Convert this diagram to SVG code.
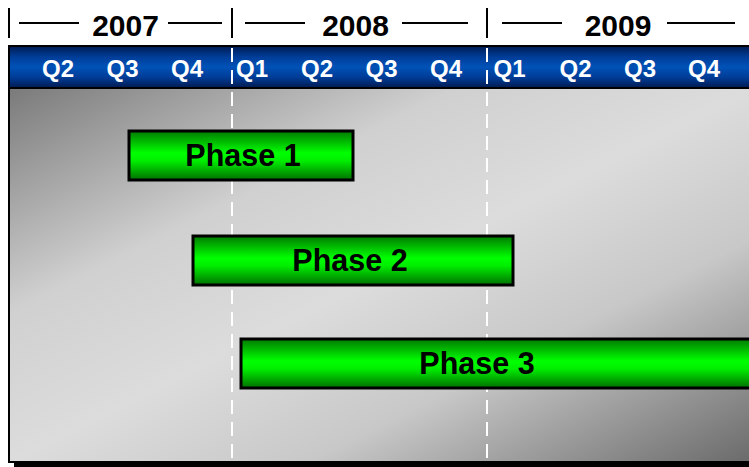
<svg xmlns="http://www.w3.org/2000/svg" width="749" height="467" viewBox="0 0 749 467">
<defs>
<linearGradient id="hdr" x1="0" y1="0" x2="0" y2="1">
<stop offset="0" stop-color="#001a50"/>
<stop offset="0.25" stop-color="#003c96"/>
<stop offset="0.5" stop-color="#0052b8"/>
<stop offset="0.75" stop-color="#003c96"/>
<stop offset="1" stop-color="#001a50"/>
</linearGradient>
<linearGradient id="bg" x1="0" y1="0" x2="1" y2="1" gradientUnits="objectBoundingBox">
<stop offset="0" stop-color="#7a7a7a"/>
<stop offset="0.3" stop-color="#d0d0d0"/>
<stop offset="0.5" stop-color="#dcdcdc"/>
<stop offset="0.7" stop-color="#c8c8c8"/>
<stop offset="1" stop-color="#6a6a6a"/>
</linearGradient>
<linearGradient id="grn" x1="0" y1="0" x2="0" y2="1">
<stop offset="0" stop-color="#007a00"/>
<stop offset="0.45" stop-color="#00ff00"/>
<stop offset="0.6" stop-color="#00f000"/>
<stop offset="1" stop-color="#007000"/>
</linearGradient>
</defs>
<style>
.yr{font-family:"Liberation Sans",Arial,sans-serif;font-weight:bold;font-size:30px;fill:#000;text-anchor:middle}
.q{font-family:"Liberation Sans",Arial,sans-serif;font-weight:bold;font-size:24px;fill:#fff;text-anchor:middle}
.ph{font-family:"Liberation Sans",Arial,sans-serif;font-weight:bold;font-size:30.5px;fill:#000;text-anchor:middle}
.ln{stroke:#000;stroke-width:2;fill:none}
.bar{fill:url(#grn);stroke:#000;stroke-width:3}
.dash{stroke:#fff;stroke-width:2;stroke-dasharray:14,8;fill:none}
</style>
<rect width="749" height="467" fill="#fff"/>
<g id="years">
<line class="ln" x1="9" y1="8" x2="9" y2="38"/>
<line class="ln" x1="232" y1="8" x2="232" y2="38"/>
<line class="ln" x1="487" y1="8" x2="487" y2="38"/>
<line class="ln" x1="19" y1="23" x2="79" y2="23"/>
<line class="ln" x1="168" y1="23" x2="222" y2="23"/>
<line class="ln" x1="245" y1="23" x2="305" y2="23"/>
<line class="ln" x1="402" y1="23" x2="468" y2="23"/>
<line class="ln" x1="502" y1="23" x2="562" y2="23"/>
<line class="ln" x1="667" y1="23" x2="735" y2="23"/>
<text class="yr" x="125.5" y="36">2007</text>
<text class="yr" x="355.5" y="36">2008</text>
<text class="yr" x="618" y="36">2009</text>
</g>
<rect x="14" y="93" width="740" height="374" fill="#000"/>
<rect x="9" y="88" width="745" height="374" fill="url(#bg)" stroke="#000" stroke-width="2"/>
<g id="header">
<rect x="9" y="46" width="745" height="42" fill="url(#hdr)" stroke="#000" stroke-width="2"/>
<text class="q" x="58" y="77">Q2</text>
<text class="q" x="122.5" y="77">Q3</text>
<text class="q" x="187" y="77">Q4</text>
<text class="q" x="252" y="77">Q1</text>
<text class="q" x="317" y="77">Q2</text>
<text class="q" x="381.5" y="77">Q3</text>
<text class="q" x="446" y="77">Q4</text>
<text class="q" x="509.5" y="77">Q1</text>
<text class="q" x="575.5" y="77">Q2</text>
<text class="q" x="640" y="77">Q3</text>
<text class="q" x="704" y="77">Q4</text>
</g>
<g id="dividers">
<line class="dash" x1="232" y1="48" x2="232" y2="460"/>
<line class="dash" x1="487" y1="48" x2="487" y2="460"/>
</g>
<g id="phase1">
<rect class="bar" x="129" y="131" width="224" height="49"/>
<text class="ph" x="243" y="166">Phase 1</text>
</g>
<g id="phase2">
<rect class="bar" x="193" y="236" width="320" height="49"/>
<text class="ph" x="350" y="271">Phase 2</text>
</g>
<g id="phase3">
<rect class="bar" x="241" y="339" width="515" height="49"/>
<text class="ph" x="477" y="374">Phase 3</text>
</g>
</svg>
